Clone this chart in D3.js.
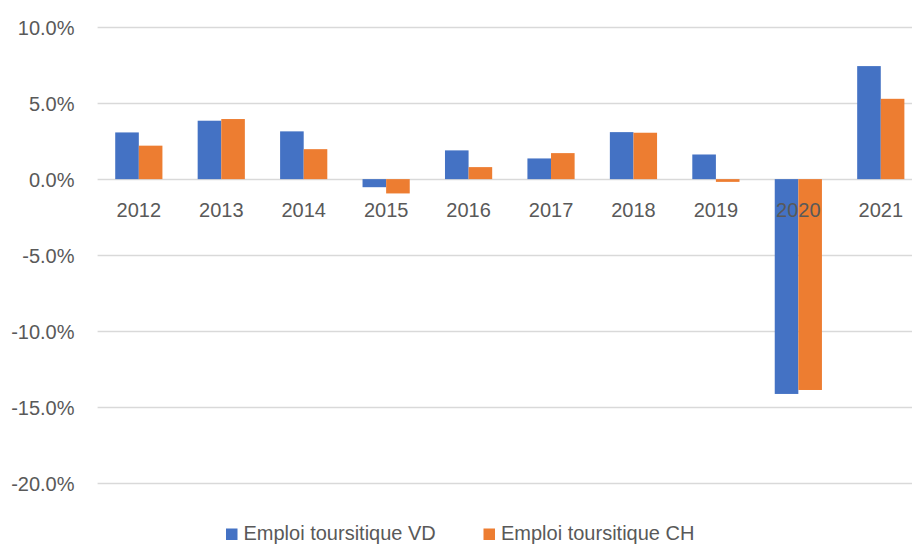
<!DOCTYPE html>
<html>
<head>
<meta charset="utf-8">
<script src="https://cdn.jsdelivr.net/npm/d3@7"></script>
<style>
  html, body { margin: 0; padding: 0; background: #fff; }
  svg { display: block; }
  text { font-family: "Liberation Sans", Arial, sans-serif; fill: #595959; }
</style>
</head>
<body>
<svg id="chart" width="912" height="544"></svg>
<script>
const years = ["2012","2013","2014","2015","2016","2017","2018","2019","2020","2021"];
const seriesNames = ["Emploi toursitique VD", "Emploi toursitique CH"];
const valuesVD = [3.07, 3.84, 3.14, -0.53, 1.89, 1.36, 3.09, 1.62, -14.12, 7.43];
const valuesCH = [2.20, 3.95, 1.97, -0.94, 0.79, 1.71, 3.05, -0.18, -13.86, 5.28];
const yTicks = [10, 5, 0, -5, -10, -15, -20];
const colors = ["#4472C4", "#ED7D31"];

const svg = d3.select("#chart");
const W = 912, H = 544;

const x = d3.scaleBand().domain(years).range([97.6, 922]).paddingInner(0).paddingOuter(0);
const y = d3.scaleLinear().domain([-20, 10]).range([483.4, 27]);

const groupW = 47.2;
const barW = groupW / 2;

// gridlines
svg.append("g").selectAll("line").data(yTicks).join("line")
  .attr("x1", 97.6).attr("x2", W)
  .attr("y1", d => Math.round(y(d)) + 0.5).attr("y2", d => Math.round(y(d)) + 0.5)
  .attr("stroke", "#d9d9d9").attr("stroke-width", 1.3);

// y axis labels
const fmt = d => (d < 0 ? "-" : "") + Math.abs(d).toFixed(1) + "%";
const yAxis = d3.axisLeft(y).tickValues(yTicks).tickSize(0).tickPadding(0).tickFormat(fmt);
const gy = svg.append("g").attr("transform", "translate(74.5,0)").call(yAxis);
gy.select(".domain").remove();
gy.selectAll("text").attr("font-size", 20).attr("fill", "#595959")
  .style("font-family", '"Liberation Sans", Arial, sans-serif').attr("dy", "0.36em");

// bars
const data = years.map((yr, i) => ({ year: yr, vals: [valuesVD[i], valuesCH[i]] }));
const groups = svg.append("g").selectAll("g").data(data).join("g")
  .attr("transform", d => `translate(${x(d.year) + (x.bandwidth() - groupW) / 2},0)`);
groups.selectAll("rect").data(d => d.vals.map((v, k) => ({ v, k }))).join("rect")
  .attr("x", d => d.k * barW)
  .attr("width", barW)
  .attr("y", d => Math.min(y(d.v), y(0)))
  .attr("height", d => Math.abs(y(d.v) - y(0)))
  .attr("fill", d => colors[d.k]);

// x labels
const xAxis = d3.axisBottom(x).tickSize(0).tickPadding(0);
const gx = svg.append("g").attr("transform", `translate(0,${y(0)})`).call(xAxis);
gx.select(".domain").remove();
gx.selectAll("text").attr("font-size", 20).attr("fill", "#595959")
  .style("font-family", '"Liberation Sans", Arial, sans-serif')
  .attr("dy", null).attr("y", 38.3);

// legend
const legendX = [226, 483.5];
const lg = svg.append("g").selectAll("g").data(seriesNames).join("g")
  .attr("transform", (d, i) => `translate(${legendX[i]},0)`);
lg.append("rect").attr("x", 0).attr("y", 528.5).attr("width", 11.5).attr("height", 11.5)
  .attr("fill", (d, i) => colors[i]);
lg.append("text").attr("x", 17.5).attr("y", 539.5).attr("font-size", 20).text(d => d);
</script>
</body>
</html>
